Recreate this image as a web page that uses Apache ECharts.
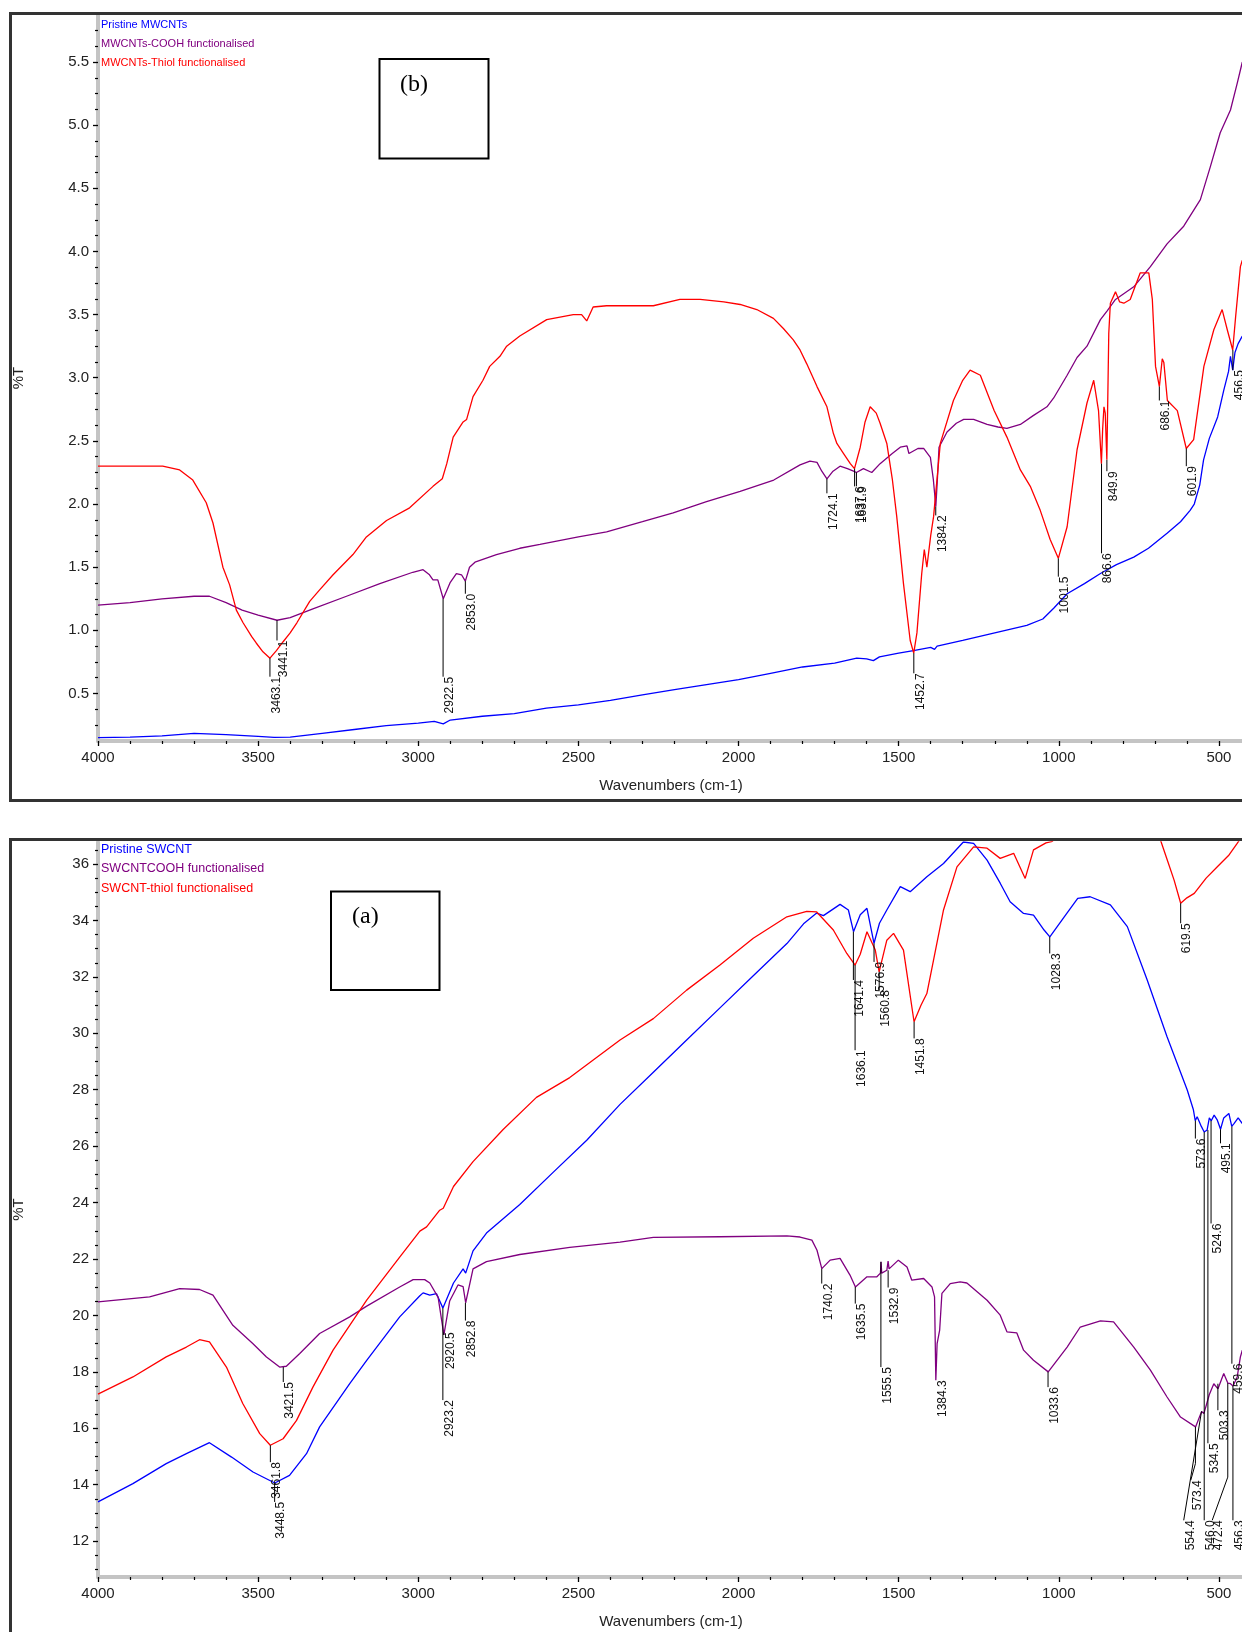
<!DOCTYPE html>
<html>
<head>
<meta charset="utf-8">
<script src="https://cdn.jsdelivr.net/npm/echarts@6/dist/echarts.min.js"></script>
<style>
html,body{margin:0;padding:0;background:#fff;overflow:hidden;}
#chart{width:1242px;height:1632px;}
</style>
</head>
<body>
<div id="chart"></div>
<script>
// ---------- tick labels ----------
const X_TICKS = [500, 1000, 1500, 2000, 2500, 3000, 3500, 4000];
const TOP_Y_TICKS = [0.5, 1.0, 1.5, 2.0, 2.5, 3.0, 3.5, 4.0, 4.5, 5.0, 5.5];
const BOT_Y_TICKS = [12, 14, 16, 18, 20, 22, 24, 26, 28, 30, 32, 34, 36];

// ---------- legend names ----------
const TOP_NAMES = ['Pristine MWCNTs', 'MWCNTs-COOH functionalised', 'MWCNTs-Thiol functionalised'];
const BOT_NAMES = ['Pristine SWCNT', 'SWCNTCOOH functionalised', 'SWCNT-thiol functionalised'];

// ---------- panel (b): MWCNTs  [wavenumber, %T] ----------
const mwPristine = [[4000,0.15],[3900,0.155],[3800,0.165],[3700,0.185],[3600,0.175],[3500,0.16],[3450,0.152],[3400,0.155],[3300,0.185],[3200,0.215],[3100,0.245],[3000,0.265],[2950,0.28],[2922,0.26],[2900,0.29],[2800,0.32],[2700,0.34],[2600,0.385],[2500,0.41],[2400,0.445],[2300,0.49],[2200,0.53],[2100,0.57],[2000,0.61],[1900,0.66],[1800,0.71],[1700,0.74],[1631,0.78],[1600,0.775],[1579,0.76],[1560,0.79],[1500,0.82],[1454,0.84],[1400,0.865],[1388,0.85],[1380,0.875],[1300,0.92],[1200,0.98],[1100,1.04],[1050,1.09],[1016,1.175],[974,1.29],[920,1.37],[870,1.45],[820,1.52],[766,1.58],[720,1.65],[661,1.77],[620,1.86],[590,1.95],[577,2.0],[560,2.15],[548,2.35],[530,2.52],[504,2.69],[485,2.90],[470,3.05],[464,3.17],[457,3.06],[450,3.2],[440,3.27],[427,3.33]];

const mwCOOH = [[4000,1.20],[3900,1.22],[3800,1.25],[3700,1.27],[3652,1.27],[3600,1.22],[3550,1.16],[3500,1.12],[3441,1.08],[3400,1.10],[3329,1.17],[3224,1.27],[3120,1.37],[3017,1.46],[2985,1.48],[2965,1.44],[2954,1.40],[2939,1.40],[2922,1.25],[2900,1.38],[2881,1.45],[2865,1.44],[2853,1.39],[2840,1.50],[2823,1.54],[2756,1.60],[2683,1.65],[2620,1.68],[2500,1.74],[2412,1.78],[2300,1.86],[2204,1.93],[2100,2.02],[1995,2.10],[1890,2.19],[1808,2.31],[1777,2.34],[1755,2.33],[1740,2.26],[1724,2.20],[1705,2.26],[1683,2.30],[1660,2.28],[1641,2.26],[1632,2.25],[1610,2.28],[1584,2.25],[1558,2.32],[1520,2.40],[1495,2.45],[1474,2.46],[1468,2.40],[1440,2.44],[1422,2.44],[1401,2.37],[1392,2.2],[1384,1.98],[1379,2.2],[1374,2.45],[1349,2.57],[1320,2.64],[1297,2.67],[1266,2.67],[1224,2.63],[1190,2.61],[1162,2.60],[1120,2.63],[1080,2.70],[1037,2.77],[1016,2.84],[974,3.02],[943,3.16],[912,3.25],[870,3.46],[849,3.53],[823,3.62],[766,3.72],[714,3.88],[662,4.06],[610,4.20],[558,4.41],[527,4.67],[496,4.94],[464,5.12],[443,5.33],[427,5.50]];

const mwThiol = [[4000,2.30],[3900,2.30],[3798,2.30],[3745,2.27],[3704,2.19],[3662,2.01],[3641,1.85],[3610,1.50],[3589,1.36],[3568,1.16],[3547,1.06],[3520,0.95],[3506,0.90],[3485,0.83],[3463,0.78],[3443,0.84],[3422,0.91],[3400,0.98],[3379,1.06],[3339,1.23],[3308,1.32],[3266,1.44],[3204,1.60],[3162,1.74],[3099,1.87],[3027,1.97],[2954,2.14],[2925,2.20],[2911,2.32],[2891,2.53],[2860,2.65],[2849,2.67],[2829,2.85],[2798,2.98],[2777,3.09],[2745,3.17],[2724,3.25],[2683,3.33],[2599,3.46],[2516,3.50],[2490,3.50],[2474,3.45],[2454,3.56],[2412,3.57],[2266,3.57],[2183,3.62],[2120,3.62],[2046,3.60],[1995,3.58],[1943,3.54],[1891,3.47],[1860,3.39],[1829,3.30],[1808,3.22],[1787,3.11],[1755,2.93],[1724,2.77],[1704,2.56],[1693,2.48],[1672,2.40],[1651,2.32],[1638,2.28],[1620,2.45],[1605,2.65],[1589,2.77],[1570,2.72],[1558,2.64],[1537,2.48],[1520,2.2],[1506,1.90],[1485,1.37],[1464,0.92],[1453,0.82],[1443,0.98],[1428,1.45],[1420,1.64],[1412,1.50],[1400,1.75],[1391,1.90],[1370,2.48],[1329,2.82],[1300,2.98],[1277,3.06],[1245,3.02],[1202,2.74],[1162,2.53],[1120,2.27],[1089,2.14],[1058,1.95],[1027,1.72],[1001.5,1.57],[974,1.82],[943,2.43],[912,2.80],[891,2.98],[876,2.74],[867,2.32],[863,2.6],[859,2.77],[855,2.72],[850,2.35],[844,3.35],[839,3.59],[823,3.68],[810,3.60],[797,3.59],[777,3.62],[746,3.83],[719,3.83],[708,3.62],[698,3.09],[686,2.93],[677,3.15],[672,3.12],[661,2.82],[630,2.74],[602,2.44],[579,2.51],[547,3.09],[516,3.38],[490,3.54],[474,3.38],[457,3.22],[448,3.48],[433,3.88],[427,3.93]];

// peak annotations: [wavenumber, %T at peak, label wavenumber, label top %T, bend %T]
const mwPeaks = [
  [3463.1,0.78,3463.1,0.633,0.633],[3441.1,1.08,3441.1,0.92,0.92],[2922.5,1.25,2922.5,0.633,0.633],
  [2853.0,1.39,2853.0,1.29,1.29],[1724.1,2.20,1724.1,2.085,2.085],[1637.6,2.28,1637.6,2.14,2.14],
  [1631.9,2.25,1631.9,2.14,2.14],[1452.7,0.82,1452.7,0.66,0.66],[1384.2,1.98,1384.2,1.91,1.91],
  [1001.5,1.57,1001.5,1.425,1.425],[866.6,2.32,866.6,1.61,1.61],[849.9,2.35,849.9,2.26,2.26],
  [686.1,2.93,686.1,2.82,2.82],[601.9,2.44,601.9,2.30,2.30],[456.5,3.22,456.5,3.06,3.06]
];

// ---------- panel (a): SWCNT ----------
const swPristine = [[4000,13.39],[3891,14.04],[3787,14.75],[3724,15.10],[3652,15.49],[3583,14.98],[3516,14.45],[3448,14.06],[3402,14.33],[3349,15.10],[3308,16.05],[3214,17.58],[3161,18.41],[3058,19.95],[2995,20.70],[2985,20.80],[2964,20.72],[2943,20.77],[2923,20.26],[2890,21.15],[2860,21.65],[2852,21.50],[2829,22.29],[2787,22.92],[2683,23.93],[2579,25.07],[2474,26.21],[2370,27.48],[2266,28.62],[2162,29.76],[2058,30.90],[1954,32.04],[1849,33.18],[1797,33.88],[1756,34.26],[1735,34.17],[1683,34.57],[1657,34.37],[1641,33.60],[1620,34.2],[1599,34.43],[1577,33.19],[1560,33.9],[1537,34.37],[1495,35.20],[1464,35.02],[1412,35.55],[1360,36.02],[1298,36.78],[1266,36.73],[1224,36.14],[1183,35.32],[1152,34.66],[1110,34.25],[1079,34.19],[1046,33.66],[1028,33.42],[983,34.13],[941,34.78],[902,34.84],[839,34.55],[786,33.78],[724,31.89],[662,29.88],[599,27.99],[580,27.3],[574,26.9],[568,27.04],[555,26.7],[546,26.5],[537,26.57],[530,27.0],[524,26.9],[515,27.1],[505,26.92],[495,26.6],[485,27.0],[469,27.16],[460,26.7],[453,26.80],[440,27.0],[427,26.80]];

const swCOOH = [[4000,20.48],[3839,20.66],[3745,20.95],[3683,20.92],[3641,20.72],[3579,19.65],[3516,19.00],[3474,18.53],[3433,18.17],[3412,18.20],[3370,18.65],[3308,19.36],[3214,19.95],[3161,20.33],[3058,21.01],[3016,21.27],[2980,21.27],[2964,21.15],[2938,20.64],[2920,19.31],[2902,20.51],[2876,21.08],[2860,21.02],[2852,20.45],[2829,21.65],[2787,21.91],[2683,22.16],[2527,22.41],[2370,22.60],[2266,22.77],[2058,22.79],[1849,22.82],[1808,22.78],[1771,22.67],[1755,22.31],[1740,21.66],[1714,21.96],[1683,22.02],[1652,21.43],[1635,21.01],[1599,21.37],[1568,21.37],[1557,21.5],[1555,21.9],[1553,21.5],[1537,21.60],[1533,21.93],[1530,21.65],[1501,21.96],[1474,21.72],[1459,21.25],[1422,21.31],[1396,21.01],[1388,20.66],[1384,17.70],[1380,19.0],[1372,19.48],[1365,20.78],[1339,21.13],[1308,21.19],[1287,21.15],[1224,20.54],[1183,20.01],[1162,19.42],[1131,19.38],[1110,18.77],[1079,18.41],[1033,18.00],[974,18.88],[933,19.59],[870,19.81],[829,19.77],[766,18.88],[714,18.06],[662,17.11],[620,16.40],[573,16.05],[554,16.6],[547,16.52],[530,17.2],[516,17.58],[503,17.4],[485,17.94],[472,17.6],[464,17.58],[456,17.5],[443,17.82],[433,18.53],[427,18.77]];

const swThiol = [[4000,17.21],[3891,17.82],[3787,18.53],[3724,18.88],[3683,19.14],[3652,19.06],[3599,18.17],[3548,16.88],[3495,15.81],[3462,15.40],[3422,15.63],[3380,16.28],[3329,17.46],[3266,18.77],[3161,20.54],[3058,22.07],[2995,22.99],[2974,23.14],[2933,23.73],[2922,23.80],[2890,24.57],[2829,25.45],[2735,26.59],[2631,27.73],[2527,28.43],[2370,29.76],[2266,30.52],[2162,31.53],[2058,32.42],[1954,33.37],[1849,34.13],[1787,34.32],[1756,34.30],[1704,33.66],[1662,32.83],[1636,32.42],[1620,32.80],[1599,33.60],[1573,32.95],[1561,32.18],[1537,33.3],[1516,33.54],[1485,32.95],[1452,30.41],[1430,31.0],[1412,31.41],[1391,32.60],[1360,34.37],[1318,35.90],[1266,36.61],[1224,36.56],[1183,36.20],[1141,36.38],[1105,35.49],[1079,36.50],[1040,36.75],[1020,36.8],[1000,37.2],[900,38],[800,38],[700,37.3],[681,36.8],[660,36.1],[640,35.43],[619.5,34.61],[600,34.8],[577,34.96],[540,35.5],[505,35.90],[470,36.3],[443,36.73],[427,37.0]];

const swPeaks = [
  [3421.5,18.17,3421.5,17.64,17.64],[3461.8,15.40,3461.8,14.80,14.80],[3448.5,14.06,3448.5,13.39,13.39],
  [2920.5,19.31,2920.5,19.40,19.40],[2923.2,20.26,2923.2,17.0,17.0],[2852.8,20.45,2852.8,19.82,19.82],
  [1740.2,21.66,1740.2,21.13,21.13],[1641.4,33.60,1641.4,31.89,31.89],[1636.1,32.42,1636.1,29.40,29.40],
  [1635.5,21.01,1635.5,20.42,20.42],[1576.9,33.19,1576.9,32.53,32.53],[1560.8,32.18,1560.8,31.53,31.53],
  [1555.5,21.9,1555.5,18.17,18.17],[1532.9,21.6,1532.9,20.99,20.99],[1451.8,30.41,1451.8,29.82,29.82],
  [1384.3,17.70,1384.3,17.70,17.70],[1033.6,18.00,1033.6,17.46,17.46],[1028.3,33.42,1028.3,32.83,32.83],
  [619.5,34.61,619.5,33.90,33.90],[573.6,26.9,573.6,26.27,26.27],[573.4,16.05,588,14.16,14.75],
  [554.4,16.6,610,12.74,16.6],[546.0,26.5,546.0,12.74,12.74],[534.5,26.57,534.5,15.47,15.47],
  [524.6,26.9,524.6,23.26,23.26],[503.3,17.58,503.3,16.64,16.64],[495.1,26.6,495.1,26.10,26.10],
  [472.4,17.6,521,12.74,14.27],[459.6,26.7,459.6,18.29,18.29],[456.3,17.5,456.3,12.74,12.74]
];

// ---------- styling ----------
const BLUE = '#0000ff', PURPLE = '#800080', RED = '#ff0000';
const FONT = '"Liberation Sans", Arial, Helvetica, sans-serif';
const X_MIN = 428, X_MAX = 4000;

function minorTicks(lo, hi, step, majors) {
  const out = [];
  for (let v = lo; v <= hi + 1e-9; v += step) {
    const r = Math.round(v * 1000) / 1000;
    if (!majors.some(m => Math.abs(m - r) < 1e-6)) out.push(r);
  }
  return out;
}

const xMinor = minorTicks(500, 4000, 100, X_TICKS);
const topYMinor = minorTicks(0.25, 5.75, 0.125, TOP_Y_TICKS);
const botYMinor = minorTicks(11, 36.5, 0.5, BOT_Y_TICKS);

function mainX(grid) {
  return {
    type: 'value', gridIndex: grid, min: X_MIN, max: X_MAX, inverse: true, position: 'bottom',
    axisLine: { show: true, lineStyle: { color: '#c4c4c4', width: 4 } },
    axisTick: { show: true, customValues: X_TICKS, length: 5, inside: false, lineStyle: { color: '#000', width: 1.3 } },
    axisLabel: { show: true, customValues: X_TICKS, formatter: v => String(v), margin: 9, fontSize: 15, color: '#222', fontFamily: FONT },
    splitLine: { show: false }
  };
}
function minorX(grid) {
  return {
    type: 'value', gridIndex: grid, min: X_MIN, max: X_MAX, inverse: true, position: 'bottom', offset: 0,
    axisLine: { show: false },
    axisTick: { show: true, customValues: xMinor, length: 3, lineStyle: { color: '#000', width: 1.2 } },
    axisLabel: { show: false }, splitLine: { show: false }
  };
}
function mainY(grid, min, max, ticks, fmt) {
  return {
    type: 'value', gridIndex: grid, min: min, max: max, position: 'left',
    name: '%T', nameLocation: 'middle', nameGap: 72, nameRotate: 90,
    nameTextStyle: { fontSize: 15, color: '#222', fontFamily: FONT },
    axisLine: { show: true, lineStyle: { color: '#c4c4c4', width: 4 } },
    axisTick: { show: true, customValues: ticks, length: 5, lineStyle: { color: '#000', width: 1.3 } },
    axisLabel: { show: true, customValues: ticks, formatter: fmt, margin: 9, fontSize: 15, color: '#222', fontFamily: FONT },
    splitLine: { show: false }
  };
}
function minorY(grid, min, max, ticks) {
  return {
    type: 'value', gridIndex: grid, min: min, max: max, position: 'left', offset: 0,
    axisLine: { show: false },
    axisTick: { show: true, customValues: ticks, length: 3, lineStyle: { color: '#000', width: 1.2 } },
    axisLabel: { show: false }, splitLine: { show: false }
  };
}

function curve(name, data, color, xi, yi) {
  return {
    name: name, type: 'line', xAxisIndex: xi, yAxisIndex: yi, data: data,
    showSymbol: false, symbol: 'none', smooth: false, clip: true,
    lineStyle: { color: color, width: 1.3 }, itemStyle: { color: color },
    animation: false, silent: true, z: 3
  };
}

function peakLabels(data, xi, yi) {
  return {
    type: 'custom', xAxisIndex: xi, yAxisIndex: yi, data: data, clip: false, z: 5, silent: true, animation: false,
    renderItem: function (params, api) {
      const wx = api.value(0), py = api.value(1), lx = api.value(2), ly = api.value(3), by = api.value(4);
      const p = api.coord([wx, py]);
      const b = api.coord([wx, by]);
      const l = api.coord([lx, ly]);
      return {
        type: 'group',
        children: [
          { type: 'polyline', shape: { points: [p, b, l] }, style: { stroke: '#000', lineWidth: 1, fill: null } },
          { type: 'text', x: l[0] + 0.5, y: l[1], rotation: Math.PI / 2,
            style: { text: wx.toFixed(1), fill: '#111', fontSize: 12, fontFamily: FONT, align: 'right', verticalAlign: 'top' } }
        ]
      };
    }
  };
}

function legendText(txt, x, y, color, size) {
  return { type: 'text', left: x, top: y, style: { text: txt, fill: color, fontSize: size, fontFamily: FONT } };
}

const chart = echarts.init(document.getElementById('chart'), null, { renderer: 'canvas' });
chart.setOption({
  backgroundColor: '#ffffff',
  animation: false,
  grid: [
    { left: 98, top: 15, width: 1144, height: 726 },
    { left: 98, top: 842, width: 1144, height: 735 }
  ],
  xAxis: [mainX(0), minorX(0), mainX(1), minorX(1)],
  yAxis: [
    mainY(0, 0.124, 5.872, TOP_Y_TICKS, v => v.toFixed(1)),
    minorY(0, 0.124, 5.872, topYMinor),
    mainY(1, 10.73, 36.78, BOT_Y_TICKS, v => String(v)),
    minorY(1, 10.73, 36.78, botYMinor)
  ],
  graphic: [
    { type: 'rect', shape: { x: 10.5, y: 13.5, width: 1300, height: 787 }, style: { stroke: '#333', lineWidth: 3, fill: null }, z: 10 },
    { type: 'rect', shape: { x: 10.5, y: 839.5, width: 1300, height: 900 }, style: { stroke: '#333', lineWidth: 3, fill: null }, z: 10 },
    { type: 'rect', shape: { x: 379.5, y: 59, width: 109, height: 99.5 }, style: { stroke: '#000', lineWidth: 2, fill: '#fff' }, z: 10 },
    { type: 'text', left: 400, top: 73, style: { text: '(b)', fill: '#000', fontSize: 24, fontFamily: '"Liberation Serif", "Times New Roman", serif' }, z: 11 },
    { type: 'rect', shape: { x: 331, y: 891.5, width: 108.5, height: 98.5 }, style: { stroke: '#000', lineWidth: 2, fill: '#fff' }, z: 10 },
    { type: 'text', left: 352, top: 905, style: { text: '(a)', fill: '#000', fontSize: 24, fontFamily: '"Liberation Serif", "Times New Roman", serif' }, z: 11 },
    legendText(TOP_NAMES[0], 101, 19, BLUE, 11),
    legendText(TOP_NAMES[1], 101, 38, PURPLE, 11),
    legendText(TOP_NAMES[2], 101, 57, RED, 11),
    legendText(BOT_NAMES[0], 101, 843, BLUE, 12.5),
    legendText(BOT_NAMES[1], 101, 862, PURPLE, 12.5),
    legendText(BOT_NAMES[2], 101, 882, RED, 12.5),
    { type: 'text', x: 671, y: 786, style: { text: 'Wavenumbers (cm-1)', fill: '#222', fontSize: 15, fontFamily: FONT, align: 'center', verticalAlign: 'middle' } },
    { type: 'text', x: 671, y: 1622, style: { text: 'Wavenumbers (cm-1)', fill: '#222', fontSize: 15, fontFamily: FONT, align: 'center', verticalAlign: 'middle' } }
  ],
  series: [
    curve(TOP_NAMES[0], mwPristine, BLUE, 0, 0),
    curve(TOP_NAMES[1], mwCOOH, PURPLE, 0, 0),
    curve(TOP_NAMES[2], mwThiol, RED, 0, 0),
    peakLabels(mwPeaks, 0, 0),
    curve(BOT_NAMES[0], swPristine, BLUE, 2, 2),
    curve(BOT_NAMES[1], swCOOH, PURPLE, 2, 2),
    curve(BOT_NAMES[2], swThiol, RED, 2, 2),
    peakLabels(swPeaks, 2, 2)
  ]
});
</script>
</body>
</html>
